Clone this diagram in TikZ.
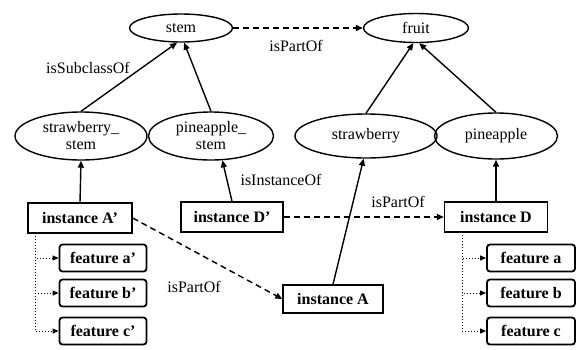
\documentclass[tikz,border=0pt]{standalone}
\usepackage{fontspec}
\setmainfont{Liberation Serif}
\usetikzlibrary{shapes.geometric,arrows.meta}
\begin{document}
\begin{tikzpicture}[x=1pt,y=-1pt,
  every node/.style={font=\fontsize{16}{17}\selectfont},
  cls/.style={draw,ellipse,line width=1.4pt,inner sep=0pt,align=center},
  inst/.style={draw,rectangle,line width=1.4pt,inner sep=0pt,font=\fontsize{16}{17}\selectfont\bfseries,minimum height=30pt},
  feat/.style={draw,rectangle,rounded corners=3pt,line width=1.8pt,inner sep=0pt,font=\fontsize{16}{17}\selectfont\bfseries,minimum width=87pt,minimum height=27pt},
  lbl/.style={inner sep=1pt},
  solidarr/.style={line width=1.4pt,-{Triangle[length=7pt,width=6pt]}},
  dasharr/.style={line width=1.4pt,dash pattern=on 6pt off 4pt,-{Triangle[length=7pt,width=6pt]}},
  dotarr/.style={line width=1pt,dotted,-{Triangle[length=6pt,width=5pt]}}
]
\useasboundingbox (0,0) rectangle (577,349);
% classes
\node[cls,minimum width=103pt,minimum height=28pt] (stem) at (181,28) {stem};
\node[cls,minimum width=105pt,minimum height=29pt] (fruit) at (416,28) {fruit};
\node[cls,minimum width=132pt,minimum height=48pt] (sstem) at (81,136) {strawberry\_\\stem};
\node[cls,minimum width=125pt,minimum height=48pt] (pstem) at (211,136) {pineapple\_\\stem};
\node[cls,minimum width=142pt,minimum height=44pt] (straw) at (366,136) {strawberry};
\node[cls,minimum width=123pt,minimum height=46pt] (pine) at (496,136) {pineapple};
% instances
\node[inst,minimum width=104pt] (iAp) at (80,218) {instance A'};
\node[inst,minimum width=102pt] (iDp) at (232,217) {instance D'};
\node[inst,minimum width=103pt] (iD) at (496,217) {instance D};
\node[inst,minimum width=100pt,minimum height=28pt] (iA) at (333,299) {instance A};
% features
\node[feat] (fap) at (103,258) {feature a'};
\node[feat] (fbp) at (103,293) {feature b'};
\node[feat] (fcp) at (103,331) {feature c'};
\node[feat,minimum width=88pt] (fa) at (531,258) {feature a};
\node[feat,minimum width=88pt] (fb) at (531,293) {feature b};
\node[feat,minimum width=88pt] (fc) at (531,331) {feature c};
% class hierarchy
\draw[solidarr] (sstem.north) -- (stem.-105);
\draw[solidarr] (pstem.north) -- (stem.-78);
\draw[solidarr] (straw.north) -- (fruit.-100);
\draw[solidarr] (pine.north) -- (fruit.-78);
\draw[dasharr] (stem.east) -- (fruit.west);
% instance links
\draw[solidarr] (iAp.north) -- (sstem.south);
\draw[solidarr] (iDp.north) -- (pstem.-65);
\draw[solidarr] (iA.north) -- (straw.-96);
\draw[solidarr] (iD.north) -- (pine.south);
\draw[dasharr] (iDp.east) -- (iD.west);
\draw[dasharr] (iAp.east) -- (iA.west);
% feature trees
\coordinate (tA) at (35,233);
\coordinate (tD) at (462,232);
\draw[dotarr] (tA) |- (fap.west);
\draw[dotarr] (tA) |- (fbp.west);
\draw[dotarr] (tA) |- (fcp.west);
\draw[dotarr] (tD) |- (fa.west);
\draw[dotarr] (tD) |- (fb.west);
\draw[dotarr] (tD) |- (fc.west);
% labels
\node[lbl] (l1) at (88,68) {isSubclassOf};
\node[lbl] (l2) at (296,46) {isPartOf};
\node[lbl] (l3) at (281,180) {isInstanceOf};
\node[lbl] (l4) at (398,202) {isPartOf};
\node[lbl] (l5) at (194,287) {isPartOf};
\end{tikzpicture}
\end{document}
